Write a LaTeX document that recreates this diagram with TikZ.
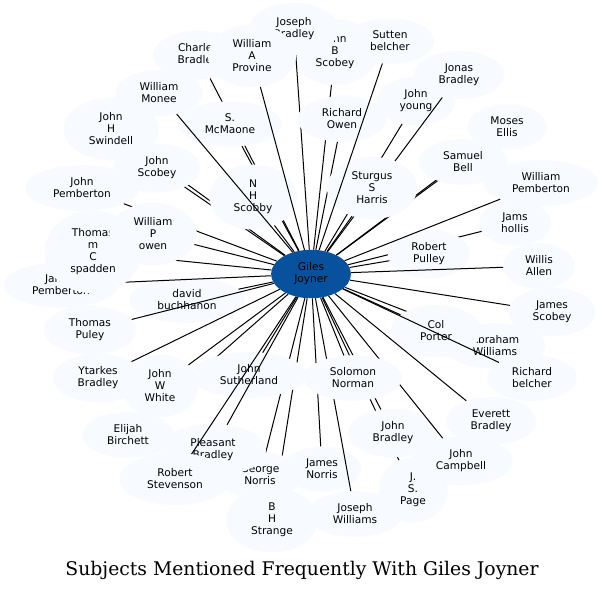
\documentclass[tikz,border=0pt]{standalone}
\usepackage{fontspec}
\setmainfont{DejaVu Sans}
\newfontfamily\titlefont{DejaVu Serif}
\usetikzlibrary{shapes.geometric}
\definecolor{pale}{HTML}{F7FBFF}
\definecolor{deep}{HTML}{08519C}
\tikzset{
  who/.style={ellipse, fill=pale, inner xsep=11.5pt, inner ysep=6pt, align=center,
    font=\fontsize{10.6}{12}\selectfont},
  link/.style={line width=1pt}
}
\begin{document}
\begin{tikzpicture}[x=1pt, y=1pt]
\fill[white] (0,0) rectangle (604,-590);
\useasboundingbox (0,0) rectangle (604,-590);
\node[who, fill=deep] (giles) at (311,-274) {Giles\\Joyner};
\foreach \n/\x/\y/\t/\w/\h in {
  charles/198/55/{Charles\\Bradley}/0/0,
  jbscobey/335/52/{John\\B\\Scobey}/0/0,
  josephb/294/29/{Joseph\\Bradley}/0/52,
  rowen/342/119/{Richard\\Owen}/0/0,
  mcmaone/230/124/{S.\\McMaone}/0/0,
  swindell/111/129/{John\\H\\Swindell}/0/0,
  jscobey/157/168/{John\\Scobey}/0/0,
  nhscobby/253/197/{N\\H\\Scobby}/0/0,
  monee/159/93/{William\\Monee}/0/0,
  provine/252/56/{William\\A\\Provine}/0/0,
  jyoung/416/101/{John\\young}/0/0,
  jonas/459/75/{Jonas\\Bradley}/0/0,
  moses/507/127/{Moses\\Ellis}/0/0,
  samuel/463/162/{Samuel\\Bell}/0/0,
  sturgus/372/188/{Sturgus\\S\\Harris}/0/0,
  sutten/390/41/{Sutten\\belcher}/0/0,
  jpemb/82/188/{John\\Pemberton}/0/0,
  david/187/300/{david\\buchhanon}/0/0,
  japemb/61/285/{James\\Pemberton}/0/0,
  spadden/93/252/{Thomas\\m\\C\\spadden}/0/0,
  wpowen/153/234/{William\\P\\owen}/0/0,
  tpuley/90/330/{Thomas\\Puley}/0/0,
  elijah/128/435/{Elijah\\Birchett}/0/0,
  jwwhite/160/386/{John\\W\\White}/0/0,
  ytarkes/98/378/{Ytarkes\\Bradley}/0/0,
  hollis/515/223/{Jams\\hollis}/0/0,
  rpulley/429/254/{Robert\\Pulley}/0/0,
  willis/539/266/{Willis\\Allen}/0/0,
  wpemb/541/183/{William\\Pemberton}/0/0,
  jascobey/552/312/{James\\Scobey}/0/0,
  abraham/495/346/{Abraham\\Williams}/0/0,
  porter/436/331/{Col\\Porter}/90/52,
  rbelcher/532/378/{Richard\\belcher}/0/0,
  everett/491/421/{Everett\\Bradley}/0/0,
  page/413/490/{J.\\S.\\Page}/0/0,
  jbradley/393/433/{John\\Bradley}/0/0,
  campbell/461/461/{John\\Campbell}/0/0,
  janorris/322/469/{James\\Norris}/0/0,
  jwilliams/355/514/{Joseph\\Williams}/0/0,
  solomon/353/378/{Solomon\\Norman}/0/0,
  strange/272/520/{B\\H\\Strange}/0/0,
  gnorris/260/475/{George\\Norris}/0/0,
  sutherland/249/375/{John\\Sutherland}/0/0,
  pleasant/213/450/{Pleasant\\Bradley}/106/52,
  stevenson/175/479/{Robert\\Stevenson}/0/52}
{
  \node[who, minimum width=\w, minimum height=\h] (\n) at (\x,-\y) {\t};
  \draw[link] (giles) -- (\n);
}
\node[font=\titlefont\fontsize{18.8}{22}\selectfont, anchor=base] (title) at (302,-575) {Subjects Mentioned Frequently With Giles Joyner};
\end{tikzpicture}
\end{document}
